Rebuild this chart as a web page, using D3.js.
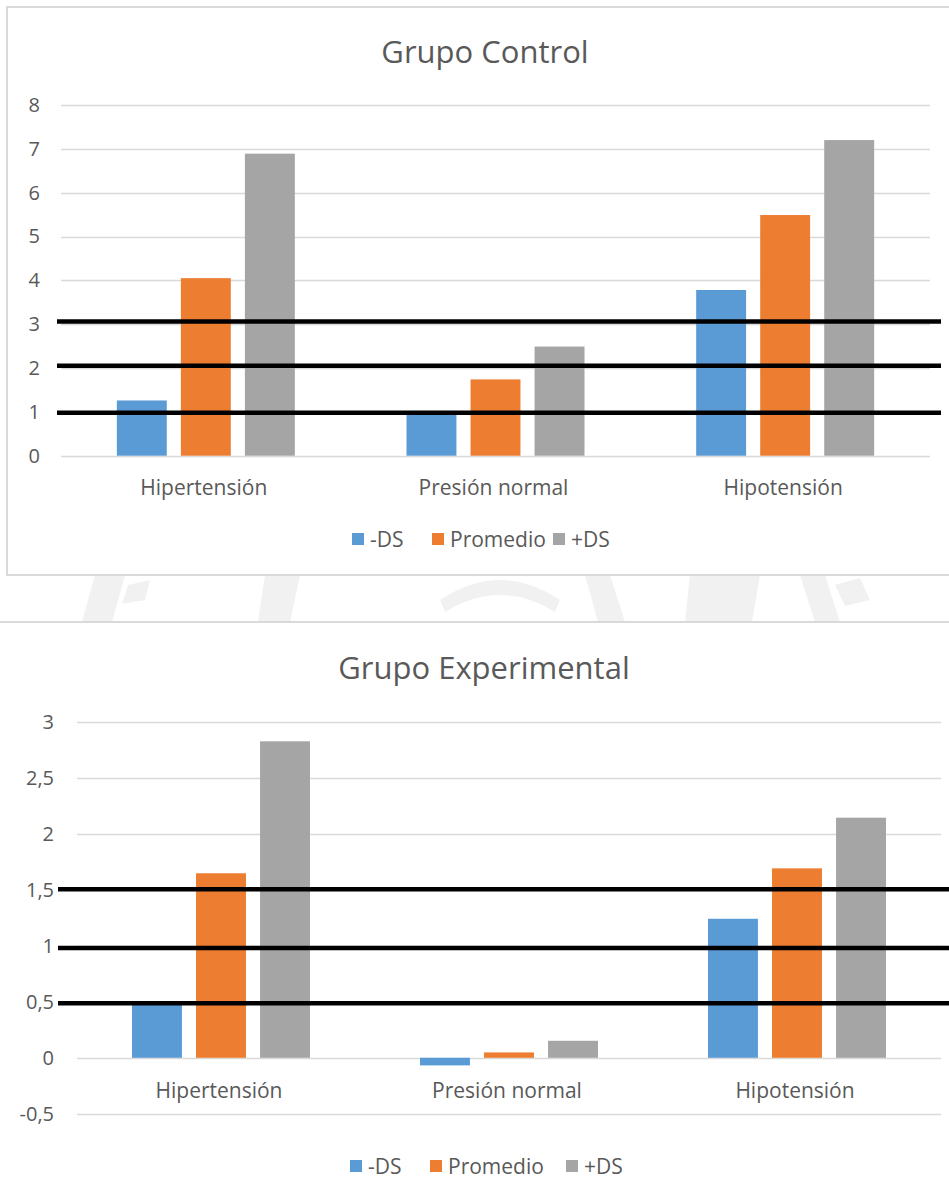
<!DOCTYPE html>
<html>
<head>
<meta charset="utf-8">
<script src="https://cdn.jsdelivr.net/npm/d3@7"></script>
<style>
  html, body { margin: 0; padding: 0; background: #ffffff; }
  svg { display: block; }
  text { font-family: "Open Sans", Lato, sans-serif; fill: #595959; }
</style>
</head>
<body>
<svg id="chart" width="949" height="1201"></svg>
<script>
// ---- data ----
const categories = ["Hipertensión", "Presión normal", "Hipotensión"];
const seriesNames = ["-DS", "Promedio", "+DS"];
const seriesColors = ["#5b9bd5", "#ed7d31", "#a5a5a5"];

// Grupo Control
const controlTitle = "Grupo Control";
const controlMinusDS = [1.26, 0.97, 3.78];
const controlPromedio = [4.05, 1.74, 5.49];
const controlPlusDS  = [6.89, 2.49, 7.2];
const controlTicks = [0, 1, 2, 3, 4, 5, 6, 7, 8];
const controlTickLabels = ["0", "1", "2", "3", "4", "5", "6", "7", "8"];
const controlMarkLines = [3.06, 2.05, 0.98];

// Grupo Experimental
const expTitle = "Grupo Experimental";
const expMinusDS = [0.49, -0.068, 1.243];
const expPromedio = [1.65, 0.048, 1.694];
const expPlusDS  = [2.83, 0.152, 2.147];
const expTicks = [-0.5, 0, 0.5, 1, 1.5, 2, 2.5, 3];
const expTickLabels = ["-0,5", "0", "0,5", "1", "1,5", "2", "2,5", "3"];
const expMarkLines = [1.506, 0.981, 0.487];

const svg = d3.select("#chart");

// faint watermark pieces visible between the two panels
const wm = svg.append("g").attr("fill", "#f1f1f1");
[
  "M95,575 L125,575 L112,622 L82,622 Z",
  "M128,585 L150,580 L145,600 L122,604 Z",
  "M265,575 L300,575 L290,622 L258,622 Z",
  "M440,600 Q500,560 560,600 L555,612 Q500,578 445,612 Z",
  "M585,575 L610,575 L625,622 L598,622 Z",
  "M690,575 L760,575 L752,622 L685,622 Z",
  "M800,575 L825,575 L840,622 L815,622 Z",
  "M835,585 L860,578 L870,600 L845,606 Z"
].forEach(p => wm.append("path").attr("d", p));

function drawChart(cfg) {
  const g = svg.append("g");
  // panel
  g.append("rect")
    .attr("x", cfg.panel[0]).attr("y", cfg.panel[1])
    .attr("width", cfg.panel[2]).attr("height", cfg.panel[3])
    .attr("fill", "#ffffff").attr("stroke", "#d9d9d9").attr("stroke-width", 2);

  const y = d3.scaleLinear().domain(cfg.domain).range(cfg.yRange);
  const x0 = d3.scaleBand().domain(categories).range(cfg.xRange).padding(0);
  const groupW = cfg.groupW;
  const x1 = d3.scaleBand().domain(seriesNames).range([0, groupW]).paddingInner(0.22).paddingOuter(0);
  const color = d3.scaleOrdinal().domain(seriesNames).range(seriesColors);

  // gridlines
  g.append("g").selectAll("line").data(cfg.ticks).join("line")
    .attr("x1", cfg.xRange[0]).attr("x2", cfg.xRange[1])
    .attr("y1", d => Math.round(y(d)) + 0.5).attr("y2", d => Math.round(y(d)) + 0.5)
    .attr("stroke", "#d9d9d9").attr("stroke-width", 1.5);

  // y axis labels via d3 axis
  const yAxis = d3.axisLeft(y).tickValues(cfg.ticks)
    .tickFormat((d, i) => cfg.tickLabels[i]).tickSize(0).tickPadding(0);
  const ya = g.append("g").attr("transform", `translate(${cfg.tickX},0)`).call(yAxis);
  ya.select(".domain").remove();
  ya.selectAll("text").attr("font-size", 20).attr("fill", "#595959")
    .style("font-family", "'Open Sans', Lato, sans-serif");

  // bars
  const rows = categories.map((c, i) => ({ cat: c, vals: cfg.series.map((s, j) => ({ name: seriesNames[j], v: s[i] })) }));
  const grp = g.append("g").selectAll("g").data(rows).join("g")
    .attr("transform", d => `translate(${x0(d.cat) + (x0.bandwidth() - groupW) / 2},0)`);
  grp.selectAll("rect").data(d => d.vals).join("rect")
    .attr("x", d => x1(d.name))
    .attr("width", x1.bandwidth())
    .attr("y", d => Math.min(y(d.v), y(0)))
    .attr("height", d => Math.abs(y(d.v) - y(0)))
    .attr("fill", d => color(d.name));

  // category labels
  g.append("g").selectAll("text").data(categories).join("text")
    .attr("x", d => x0(d) + x0.bandwidth() / 2 - 2)
    .attr("y", cfg.catY)
    .attr("text-anchor", "middle").attr("font-size", 21)
    .text(d => d);

  // hand-drawn black marker lines
  g.append("g").selectAll("line").data(cfg.marks).join("line")
    .attr("x1", cfg.markX[0]).attr("x2", cfg.markX[1])
    .attr("y1", d => y(d)).attr("y2", d => y(d))
    .attr("stroke", "#000000").attr("stroke-width", 4.5);

  // title
  g.append("text").attr("x", cfg.titleX).attr("y", cfg.titleY)
    .attr("text-anchor", "middle").attr("font-size", 31).text(cfg.title);

  // legend
  const lg = g.append("g");
  seriesNames.forEach((s, i) => {
    lg.append("rect").attr("x", cfg.legendX[i]).attr("y", cfg.legendY - 14)
      .attr("width", 12).attr("height", 12).attr("fill", seriesColors[i]);
    lg.append("text").attr("x", cfg.legendX[i] + 18).attr("y", cfg.legendY)
      .attr("font-size", 21).text(s);
  });
}

drawChart({
  panel: [7, 7, 960, 568],
  domain: [0, 8], yRange: [455.7, 105],
  xRange: [61, 930], groupW: 178,
  ticks: controlTicks, tickLabels: controlTickLabels, tickX: 40,
  series: [controlMinusDS, controlPromedio, controlPlusDS],
  catY: 495, marks: controlMarkLines, markX: [57, 941],
  title: controlTitle, titleX: 485, titleY: 63,
  legendX: [352, 432, 553], legendY: 547
});

drawChart({
  panel: [-3, 622, 960, 600],
  domain: [-0.5, 3], yRange: [1113.7, 722.3],
  xRange: [77, 941], groupW: 178,
  ticks: expTicks, tickLabels: expTickLabels, tickX: 54,
  series: [expMinusDS, expPromedio, expPlusDS],
  catY: 1098, marks: expMarkLines, markX: [58, 952],
  title: expTitle, titleX: 484, titleY: 679,
  legendX: [350, 430, 566], legendY: 1174
});
</script>
</body>
</html>
